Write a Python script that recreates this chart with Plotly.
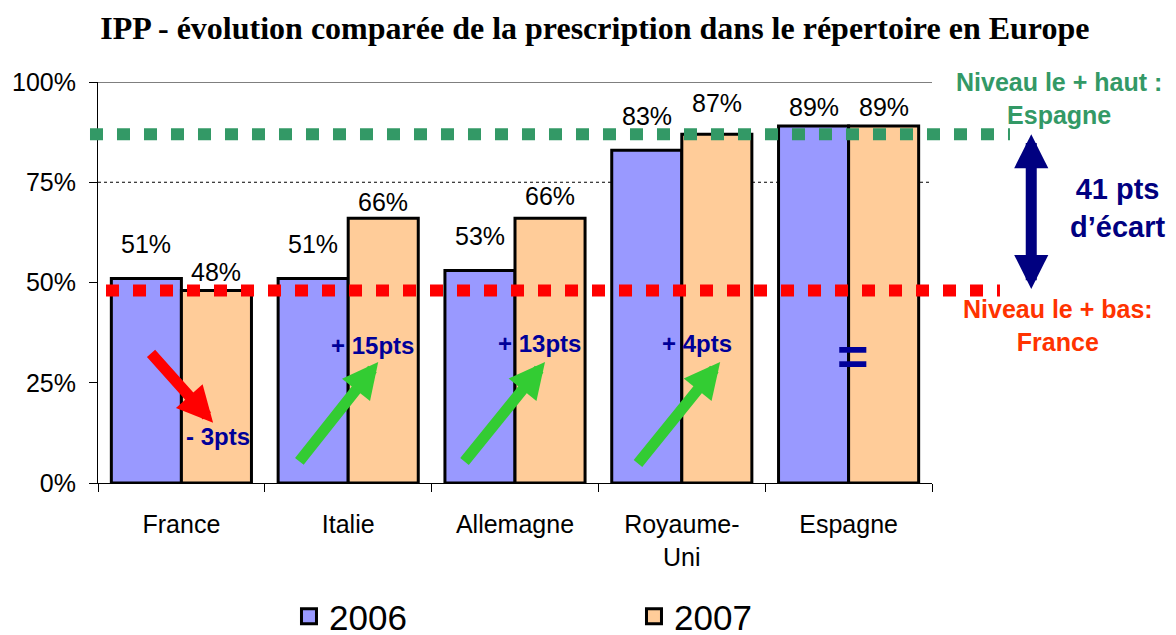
import plotly.graph_objects as go

# --- data ---
pays = ["France", "Italie", "Allemagne", "Royaume-<br>Uni", "Espagne"]
annees = ["2006", "2007"]
part_2006 = [0.51, 0.51, 0.53, 0.83, 0.89]
part_2007 = [0.48, 0.66, 0.66, 0.87, 0.89]
evolution = ["- 3pts", "+ 15pts", "+ 13pts", "+ 4pts", "="]
niveau_haut = 0.87
niveau_bas = 0.48

# label lift above each bar (px)
lift_2006 = [34, 34, 34, 34, 19]
lift_2007 = [19, 16, 22, 31, 19]

bleu = "#9999FF"
peche = "#FFCC99"
vert = "#339966"
rouge = "#FF0000"
marine = "#000099"
arial = "Liberation Sans, Arial, sans-serif"

fig = go.Figure()
for nom, vals, col in zip(annees, [part_2006, part_2007], [bleu, peche]):
    fig.add_trace(go.Bar(name=nom, x=pays, y=vals, showlegend=False,
                         marker=dict(color=col, line=dict(color="black", width=3))))
# legend-only entries with bigger square keys
for nom, col in zip(annees, [bleu, peche]):
    fig.add_trace(go.Scatter(name=nom, x=[None], y=[None], mode="markers",
                             marker=dict(symbol="square", size=15, color=col, line=dict(color="black", width=3))))

# value labels
for i, (a, b) in enumerate(zip(part_2006, part_2007)):
    fig.add_annotation(x=i - 0.21, y=a, text=f"{a:.0%}", showarrow=False, yshift=lift_2006[i],
                       font=dict(family=arial, size=25, color="black"))
    fig.add_annotation(x=i + 0.21, y=b, text=f"{b:.0%}", showarrow=False, yshift=lift_2007[i],
                       font=dict(family=arial, size=25, color="black"))

# reference levels
fig.add_shape(type="line", xref="paper", yref="y", x0=-0.0096, x1=1.0935, y0=niveau_haut, y1=niveau_haut,
              line=dict(color=vert, width=12, dash="13px,14px"))
fig.add_shape(type="line", xref="paper", yref="y", x0=0.0096, x1=1.0815, y0=niveau_bas, y1=niveau_bas,
              line=dict(color=rouge, width=12, dash="13px,14px"))
# grid lines
fig.add_shape(type="line", xref="paper", yref="y", x0=0, x1=1, y0=0.75, y1=0.75,
              line=dict(color="black", width=1, dash="dot"), layer="below")
fig.add_shape(type="line", xref="paper", yref="y", x0=0, x1=1, y0=1, y1=1,
              line=dict(color="black", width=1), layer="below")

# trend arrows
fleches = [(-0.19, 0.327, 0.19, 0.15, rouge),
           (0.70, 0.05, 1.18, 0.302, "#33CC33"),
           (1.69, 0.05, 2.18, 0.302, "#33CC33"),
           (2.73, 0.045, 3.23, 0.302, "#33CC33")]
for x0, y0, x1, y1, c in fleches:
    fig.add_annotation(x=x1, y=y1, ax=x0, ay=y0, xref="x", yref="y", axref="x", ayref="y", text="",
                       showarrow=True, arrowhead=2, arrowsize=0.65, arrowwidth=11, arrowcolor=c)

# evolution texts
pos_evol = [(0.22, 0.115), (1.147, 0.344), (2.147, 0.349), (3.093, 0.349), (4.027, 0.317)]
for t, (x, y) in zip(evolution, pos_evol):
    fig.add_annotation(x=x, y=y, text=f"<b>{t}</b>", showarrow=False, xanchor="center", yanchor="middle",
                       font=dict(family=arial, size=54 if t == "=" else 24, color=marine))

# gap arrow and side texts
fig.add_annotation(x=1.119, y=niveau_haut, xref="paper", yref="y", ax=0, ay=niveau_bas, axref="pixel", ayref="y",
                   text="", showarrow=True, arrowside="end+start", arrowhead=2, startarrowhead=2,
                   arrowsize=0.62, startarrowsize=0.62, arrowwidth=11, arrowcolor="#000080")
cotes = [(1.152, 0.96, "Niveau le + haut :<br>Espagne", 25, vert),
         (1.222, 0.687, "41 pts<br>d’écart", 29, "#000080"),
         (1.151, 0.392, "Niveau le + bas:<br>France", 25, "#FF3300")]
for x, y, t, s, c in cotes:
    fig.add_annotation(x=x, y=y, xref="paper", yref="paper", showarrow=False, xanchor="center", yanchor="middle",
                       text=f"<b>{t}</b>", align="center", font=dict(family=arial, size=s, color=c))

fig.update_layout(
    width=1176, height=635,
    title=dict(text="<b>IPP - évolution comparée de la prescription dans le répertoire en Europe</b>",
               x=0.499, xanchor="center", y=0.9685, yanchor="middle",
               font=dict(family="Liberation Serif, Times New Roman, serif", size=32, color="black")),
    margin=dict(l=90, r=252, t=74, b=160, autoexpand=False),
    barmode="group", bargap=0.16, bargroupgap=0,
    plot_bgcolor="white", paper_bgcolor="white",
    legend=dict(orientation="h", x=0.229, xanchor="left", y=-0.333, yanchor="middle",
                font=dict(family=arial, size=35, color="black"), itemsizing="trace",
                entrywidth=300, entrywidthmode="pixels", traceorder="normal"),
    xaxis=dict(showline=True, linecolor="black", linewidth=1, ticks="outside", ticklen=8, tickcolor="black",
               tickson="boundaries", ticklabelstandoff=19, tickfont=dict(family=arial, size=25, color="black"),
               showgrid=False),
    yaxis=dict(range=[0, 1], dtick=0.25, tickformat=".0%", showline=True, linecolor="black", linewidth=1,
               ticks="outside", ticklen=8, tickcolor="black", showgrid=False, zeroline=False,
               ticklabelstandoff=8, tickfont=dict(family=arial, size=25, color="black")),
)

fig.write_html("out.html")
